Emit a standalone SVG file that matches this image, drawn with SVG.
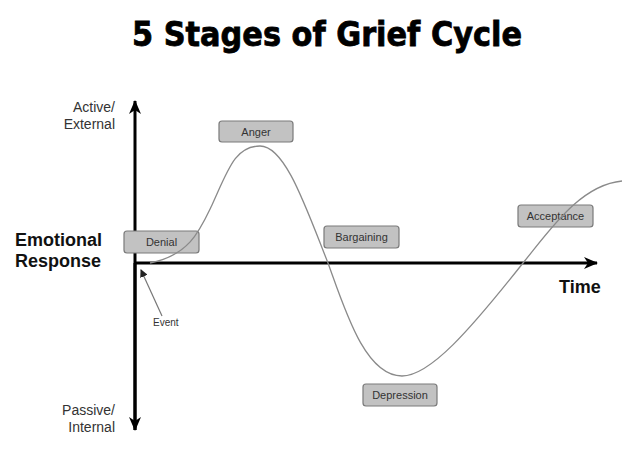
<svg xmlns="http://www.w3.org/2000/svg" width="640" height="460" viewBox="0 0 640 460">
<defs>
<style>
.lbl{font-family:"Liberation Sans",Arial,sans-serif;font-size:14px;fill:#333;}
.big{font-family:"Liberation Sans",Arial,sans-serif;font-size:18px;font-weight:bold;fill:#111;}
.box{fill:#c2c2c2;stroke:#7a7a7a;stroke-width:1.2;}
.bt{font-family:"Liberation Sans",Arial,sans-serif;font-size:11px;fill:#333;text-anchor:middle;}
.axis{stroke:#000;stroke-width:3;fill:none;}
</style>
<marker id="ah" viewBox="0 0 14 12" refX="13" refY="6" markerWidth="14" markerHeight="12" markerUnits="userSpaceOnUse" orient="auto">
<path d="M0,0 L14,6 L0,12 L4,6 Z" fill="#000"/>
</marker>
<marker id="eh" viewBox="0 0 8 8" refX="7" refY="4" markerWidth="8" markerHeight="8" markerUnits="userSpaceOnUse" orient="auto">
<path d="M0,0 L8,4 L0,8 Z" fill="#222"/>
</marker>
</defs>
<rect width="640" height="460" fill="#fff"/>
<text x="327" y="46" text-anchor="middle" font-family="DejaVu Sans, sans-serif" font-weight="bold" font-size="33" textLength="390" lengthAdjust="spacingAndGlyphs" fill="#000" stroke="#000" stroke-width="0.8">5 Stages of Grief Cycle</text>
<g id="axes">
<line class="axis" x1="135" y1="430" x2="135" y2="101" marker-end="url(#ah)"/>
<line class="axis" x1="135" y1="263" x2="135" y2="430" marker-end="url(#ah)"/>
<line class="axis" x1="134" y1="263" x2="597" y2="263" marker-end="url(#ah)"/>
</g>
<g id="axis-labels">
<text class="lbl" x="115" y="112" text-anchor="end">Active/</text>
<text class="lbl" x="115" y="129" text-anchor="end">External</text>
<text class="lbl" x="115" y="415" text-anchor="end">Passive/</text>
<text class="lbl" x="115" y="432" text-anchor="end">Internal</text>
<text class="big" x="15" y="246">Emotional</text>
<text class="big" x="15" y="267">Response</text>
<text class="big" x="559" y="293">Time</text>
<text x="153" y="326" font-family="Liberation Sans, Arial, sans-serif" font-size="10" fill="#333">Event</text>
</g>
<g id="denial"><rect class="box" x="124" y="231" width="75" height="22" rx="3"/><text class="bt" x="161.5" y="246">Denial</text></g>
<g id="anger"><rect class="box" x="219" y="121" width="74" height="21" rx="3"/><text class="bt" x="256" y="135.5">Anger</text></g>
<g id="bargaining"><rect class="box" x="324" y="226" width="75" height="22" rx="3"/><text class="bt" x="361.5" y="241">Bargaining</text></g>
<g id="depression"><rect class="box" x="363" y="384" width="74" height="22" rx="3"/><text class="bt" x="400" y="399">Depression</text></g>
<g id="acceptance"><rect class="box" x="518" y="205" width="75" height="22" rx="3"/><text class="bt" x="555.5" y="220">Acceptance</text></g>
<g id="connectors">
<path id="curve" d="M150,263 C190,255 200,230 212,205 C228,170 235,146 260,146 C285,146 305,205 328,263 C345,310 365,376 402,376 C430,376 470,330 523,263 C550,230 580,185 622,181" fill="none" stroke="#8a8a8a" stroke-width="1.3"/>
<line x1="162" y1="316" x2="141" y2="270" stroke="#777" stroke-width="1.2" marker-end="url(#eh)"/>
</g>
</svg>
